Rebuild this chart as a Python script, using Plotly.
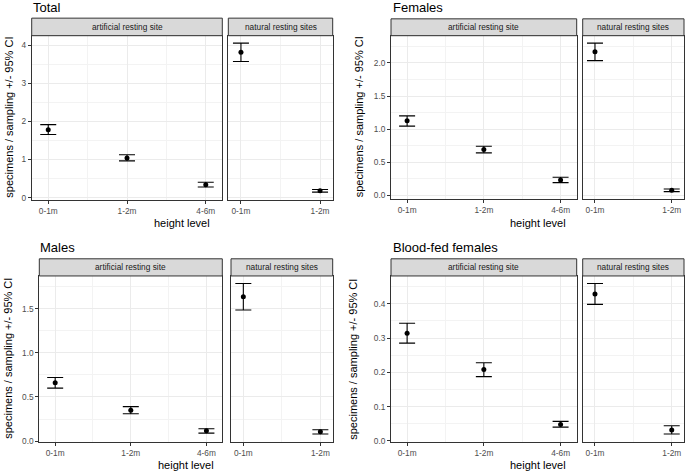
import plotly.graph_objects as go

# ---------------- data ----------------
cats_art = ["0-1m", "1-2m", "4-6m"]
cats_nat = ["0-1m", "1-2m"]
facet_labels = ["artificial resting site", "natural resting sites"]
panel_titles = ["Total", "Females", "Males", "Blood-fed females"]

total_art_mean = [1.78, 1.04, 0.34]
total_art_lo = [1.655, 0.965, 0.28]
total_art_hi = [1.915, 1.125, 0.405]
total_nat_mean = [3.81, 0.18]
total_nat_lo = [3.57, 0.145]
total_nat_hi = [4.05, 0.215]

fem_art_mean = [1.125, 0.69, 0.23]
fem_art_lo = [1.045, 0.64, 0.19]
fem_art_hi = [1.20, 0.74, 0.27]
fem_nat_mean = [2.17, 0.074]
fem_nat_lo = [2.035, 0.054]
fem_nat_hi = [2.30, 0.094]

male_art_mean = [0.66, 0.35, 0.116]
male_art_lo = [0.60, 0.31, 0.09]
male_art_hi = [0.72, 0.39, 0.14]
male_nat_mean = [1.635, 0.105]
male_nat_lo = [1.485, 0.08]
male_nat_hi = [1.785, 0.128]

bf_art_mean = [0.314, 0.208, 0.048]
bf_art_lo = [0.285, 0.1875, 0.040]
bf_art_hi = [0.343, 0.228, 0.057]
bf_nat_mean = [0.428, 0.032]
bf_nat_lo = [0.398, 0.020]
bf_nat_hi = [0.459, 0.044]

y_dticks = [1, 0.5, 0.5, 0.1]
y_formats = ["d", ".1f", ".1f", ".1f"]

panels = [
    (total_art_mean, total_art_lo, total_art_hi, total_nat_mean, total_nat_lo, total_nat_hi),
    (fem_art_mean, fem_art_lo, fem_art_hi, fem_nat_mean, fem_nat_lo, fem_nat_hi),
    (male_art_mean, male_art_lo, male_art_hi, male_nat_mean, male_nat_lo, male_nat_hi),
    (bf_art_mean, bf_art_lo, bf_art_hi, bf_nat_mean, bf_nat_lo, bf_nat_hi),
]

# ---------------- layout geometry (pixels) ----------------
W, H = 685, 476
# art x0,x1, nat x0,x1, panel top, panel bottom, strip top
geom = [
    (31.7, 222.3, 228.3, 332.7, 36.0, 201.3, 18.3),
    (391.0, 576.7, 582.7, 684.0, 36.0, 200.7, 19.0),
    (39.3, 222.3, 231.0, 332.7, 278.3, 445.3, 261.0),
    (391.0, 576.7, 582.7, 684.0, 278.3, 445.3, 261.0),
]
title_pos = [(32, 8), (392, 8), (39, 250), (392, 250)]
xtitle_pos = [(182, 225), (538, 225), (186, 469), (538, 469)]
ytitle_x = [9, 359, 8, 353]

FONT = "Liberation Sans, Arial, Helvetica, sans-serif"
BORDER = "#333333"
GRID = "#EBEBEB"
MINOR = "#F3F3F3"


def px(x):
    return x / W


def py(y):
    return 1 - y / H


fig = go.Figure()
layout = dict(
    width=W, height=H, margin=dict(l=0, r=0, t=0, b=0),
    paper_bgcolor="white", plot_bgcolor="white", showlegend=False,
    font=dict(family=FONT),
)
annotations = []
shapes = []

ax = 0
for p, (data, g) in enumerate(zip(panels, geom)):
    am, alo, ahi, nm, nlo, nhi = data
    ax0, ax1, nx0, nx1, ptop, pbot, stop = g
    all_lo = list(alo) + list(nlo)
    all_hi = list(ahi) + list(nhi)
    ymin, ymax = min(all_lo), max(all_hi)
    pad = 0.05 * (ymax - ymin)
    yr = [ymin - pad, ymax + pad]

    for f, (cats, m, lo, hi, x0, x1) in enumerate([
        (cats_art, am, alo, ahi, ax0, ax1),
        (cats_nat, nm, nlo, nhi, nx0, nx1),
    ]):
        ax += 1
        xs = list(range(len(cats)))
        xlo, xhi = -0.1, len(cats) - 1 + 0.1
        xpad = 0.05 * (xhi - xlo)
        xr = [xlo - xpad, xhi + xpad]
        xname = "xaxis" if ax == 1 else f"xaxis{ax}"
        yname = "yaxis" if ax == 1 else f"yaxis{ax}"
        xref = "x" if ax == 1 else f"x{ax}"
        yref = "y" if ax == 1 else f"y{ax}"
        fig.add_trace(go.Scatter(
            x=xs, y=m, mode="markers", xaxis=xref, yaxis=yref,
            marker=dict(color="black", size=5),
            error_y=dict(type="data", symmetric=False,
                         array=[h - v for h, v in zip(hi, m)],
                         arrayminus=[v - l for v, l in zip(m, lo)],
                         color="black", thickness=1.1, width=8),
            hoverinfo="skip",
        ))
        mids = [i + 0.5 for i in xs[:-1]]
        layout[xname] = dict(
            domain=[px(x0), px(x1)], anchor=yref, range=xr,
            tickmode="array", tickvals=xs, ticktext=cats,
            ticks="outside", ticklen=3, tickcolor=BORDER, tickwidth=1,
            tickfont=dict(size=8.3, color="#4D4D4D"),
            showgrid=True, gridcolor=GRID, gridwidth=1,
            minor=dict(tickmode="array", tickvals=mids, showgrid=True,
                       gridcolor=MINOR, gridwidth=0.6, ticks=""),
            showline=True, mirror=True, linecolor=BORDER, linewidth=1,
            zeroline=False, fixedrange=True,
        )
        ydt = y_dticks[p]
        layout[yname] = dict(
            domain=[py(pbot), py(ptop)], anchor=xref, range=yr,
            tickmode="linear", tick0=0, dtick=ydt, tickformat=y_formats[p],
            ticks="outside" if f == 0 else "", ticklen=3, tickcolor=BORDER,
            showticklabels=(f == 0),
            tickfont=dict(size=8.3, color="#4D4D4D"),
            showgrid=True, gridcolor=GRID, gridwidth=1,
            minor=dict(tick0=0, dtick=ydt / 2, showgrid=True,
                       gridcolor=MINOR, gridwidth=0.6, ticks=""),
            showline=True, mirror=True, linecolor=BORDER, linewidth=1,
            zeroline=False, fixedrange=True,
        )
        # strip
        shapes.append(dict(type="rect", xref="paper", yref="paper",
                           x0=px(x0), x1=px(x1), y0=py(ptop), y1=py(stop),
                           fillcolor="#D9D9D9", line=dict(color=BORDER, width=1)))
        annotations.append(dict(
            text=facet_labels[f], xref="paper", yref="paper",
            x=px((x0 + x1) / 2), y=py((ptop + stop) / 2),
            xanchor="center", yanchor="middle", showarrow=False,
            font=dict(size=8.3, color="#1A1A1A")))

    # title
    tx, ty = title_pos[p]
    annotations.append(dict(text=panel_titles[p], xref="paper", yref="paper",
                            x=px(tx - 1), y=py(ty), xanchor="left", yanchor="middle",
                            showarrow=False, font=dict(size=13, color="black")))
    hx, hy = xtitle_pos[p]
    annotations.append(dict(text="height level", xref="paper", yref="paper",
                            x=px(hx), y=py(hy), xanchor="center", yanchor="middle",
                            showarrow=False, font=dict(size=11, color="black")))
    annotations.append(dict(text="specimens / sampling +/- 95% CI", xref="paper",
                            yref="paper", x=px(ytitle_x[p]), y=py((ptop + pbot) / 2),
                            xanchor="center", yanchor="middle", textangle=-90,
                            showarrow=False, font=dict(size=11, color="black")))

layout["annotations"] = annotations
layout["shapes"] = shapes
fig.update_layout(**layout)
fig.write_html("out.html", config={"displayModeBar": False},
               post_script="document.body.style.margin='0';document.body.style.overflow='hidden';")
